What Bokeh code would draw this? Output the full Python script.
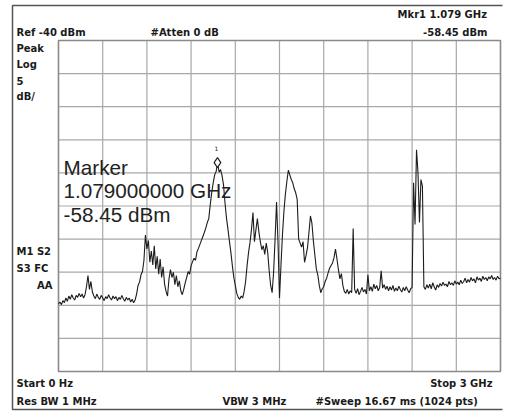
import numpy as np
from bokeh.plotting import figure
from bokeh.models import Label, Range1d
from bokeh.embed import file_html
from bokeh.resources import INLINE

# ---- data ----
start_ghz = 0.0
stop_ghz = 3.0
ref_dbm = -40.0
db_per_div = 5.0
marker_ghz = 1.079
marker_dbm = -58.45

trace_dbm = [
    -79.8, -79.5, -79.9, -79.3, -79.6, -78.9, -79.4, -78.6, -79.1, -78.4,
    -78.9, -79.2, -78.5, -78.8, -78.2, -78.7, -78.3, -78.9, -78.4, -77.2,
    -75.5, -77.6, -76.4, -78.0, -78.6, -79.0, -78.3, -78.8, -79.1, -78.5,
    -78.9, -79.3, -78.7, -79.0, -78.4, -78.9, -79.2, -78.6, -79.0, -78.7,
    -79.3, -78.8, -79.1, -78.5, -79.0, -79.4, -78.8, -79.2, -78.9, -79.5,
    -79.1, -79.6, -79.2, -78.3, -77.0, -76.5, -75.4, -74.9, -73.2, -69.4,
    -71.5, -70.2, -73.5, -71.8, -73.9, -71.0, -74.5, -72.6, -75.3, -73.0,
    -75.8, -74.2, -76.8, -77.9, -78.6, -76.0, -74.6, -75.8, -75.0, -76.9,
    -75.5, -77.2, -76.3, -77.8, -78.4, -77.6, -76.6, -75.8, -74.9, -75.3,
    -74.0, -73.4, -72.9, -73.2, -71.9, -71.4, -70.8, -70.2, -69.6, -69.0,
    -68.3, -67.5, -66.9, -64.8, -63.0, -61.5, -60.3, -59.8, -58.45, -59.9,
    -59.5, -60.4, -61.8, -64.5, -66.8, -68.5, -70.3, -72.0, -74.0, -75.8,
    -77.0, -78.2, -78.8, -79.1, -78.6, -78.9, -77.9, -76.4, -74.0, -72.0,
    -70.5, -68.5, -66.0, -70.4, -68.6, -66.9, -68.9, -70.4, -71.6, -71.0,
    -72.3, -70.6, -72.0, -74.8, -77.0, -78.1, -75.0, -70.0, -64.4, -70.5,
    -78.9, -74.0, -69.4, -65.8, -63.2, -61.3, -59.6, -60.3, -61.0, -61.5,
    -62.4, -63.0, -64.0, -70.0, -70.6, -71.2, -70.4, -73.5, -72.5, -71.3,
    -69.0, -66.5, -67.6, -70.3, -72.4, -74.5, -75.4, -77.0, -78.1, -77.5,
    -77.2, -76.4, -75.9, -75.1, -74.4, -74.0, -73.6, -72.8, -71.5, -73.0,
    -74.6, -76.0, -75.2, -77.0, -77.9, -78.2, -77.6, -78.3, -77.8, -78.1,
    -68.4, -77.6, -78.2, -77.5, -78.4, -77.9, -77.3, -78.0, -77.6, -78.3,
    -75.4, -77.8, -77.2, -77.9, -76.8, -77.5, -77.0, -77.8, -77.3, -74.8,
    -77.4, -76.9, -77.6, -77.1, -77.8, -77.2, -77.7, -77.0, -77.9, -77.4,
    -77.8, -77.1, -77.6, -78.0, -77.3, -77.8, -77.2, -77.7, -78.1, -77.5,
    -77.3, -61.5, -67.8, -56.5, -60.0, -67.5, -61.0, -62.0, -77.2, -77.6,
    -76.9, -77.4, -76.8, -77.5, -76.6, -77.2, -77.7, -76.9, -77.3, -76.7,
    -77.1, -76.5, -77.0, -76.8, -77.2, -76.4, -76.9, -76.6, -77.0, -76.3,
    -76.8, -76.5, -76.9, -76.2, -76.7, -76.4, -75.9, -76.6, -76.1, -76.5,
    -75.8, -76.3, -76.0, -76.6, -75.7, -76.2, -75.9, -76.4, -75.6, -76.1,
    -75.8, -76.3, -75.7, -76.0, -75.5, -76.1, -75.8, -76.2, -75.6, -76.0,
    -75.9,
]
# sweep points are evenly spaced from start to stop
trace_ghz = np.linspace(start_ghz, stop_ghz, len(trace_dbm))

freq_ticks = [0.0, 0.3, 0.6, 0.9, 1.2, 1.5, 1.8, 2.1, 2.4, 2.7, 3.0]
level_ticks = [-90, -85, -80, -75, -70, -65, -60, -55, -50, -45, -40]

# ---- layout (page pixels) ----
W, H = 506, 417
GL, GT, GW, GH = 58, 40, 442, 331      # graticule box
bottom_dbm = ref_dbm - 10 * db_per_div
ghz_per_px = (stop_ghz - start_ghz) / GW
db_per_px = (ref_dbm - bottom_dbm) / GH

x0 = start_ghz - GL * ghz_per_px
x1 = stop_ghz + (W - GL - GW) * ghz_per_px
y1 = ref_dbm + GT * db_per_px
y0 = bottom_dbm - (H - GT - GH) * db_per_px

p = figure(frame_width=W, frame_height=H, output_backend="svg",
           toolbar_location=None, x_range=Range1d(x0, x1), y_range=Range1d(y0, y1),
           min_border=0)
p.axis.visible = False
p.grid.visible = False
p.outline_line_color = None
p.background_fill_color = "white"
p.border_fill_color = "white"

# graticule
p.segment(x0=freq_ticks, x1=freq_ticks, y0=[bottom_dbm] * len(freq_ticks),
          y1=[ref_dbm] * len(freq_ticks), line_color="#a8a8a8", line_width=1.2)
p.segment(x0=[start_ghz] * len(level_ticks), x1=[stop_ghz] * len(level_ticks),
          y0=level_ticks, y1=level_ticks, line_color="#a8a8a8", line_width=1.2)
p.quad(left=[start_ghz], right=[stop_ghz], bottom=[bottom_dbm], top=[ref_dbm],
       fill_alpha=0, line_color="#8a8a8a", line_width=1.5)


def gx(px):
    return x0 + px * ghz_per_px


def gy(py):
    return y1 - py * db_per_px


# outer instrument frame
p.line([gx(502), gx(12), gx(12), gx(502)], [gy(5), gy(5), gy(409), gy(409)],
       line_color="#555555", line_width=1.5)

p.line(trace_ghz, trace_dbm, line_color="#1c1c1c", line_width=1.1)

# marker
p.scatter([marker_ghz], [marker_dbm], marker="diamond", size=10,
          fill_color="white", line_color="#222222", line_width=1.2)

INSTR = dict(text_font="DejaVu Sans", text_font_style="bold", text_font_size="10px",
             text_color="#1a1a1a", text_baseline="alphabetic")


def lab(px, py, text, align="left", fs=10, **kw):
    opts = dict(INSTR)
    opts.update(kw)
    opts["text_font_size"] = f"{fs}px"
    p.add_layout(Label(x=gx(px), y=gy(py - 0.4 * fs), text=text, text_align=align, **opts))


lab(16, 36, "Ref -40 dBm")
lab(150, 36, "#Atten 0 dB")
lab(490, 18, "Mkr1  1.079 GHz", "right")
lab(487, 36, "-58.45 dBm", "right")
lab(16, 52, "Peak")
lab(16, 68, "Log")
lab(16, 84, "5")
lab(16, 100, "dB/")
lab(16, 255, "M1  S2")
lab(16, 272, "S3  FC")
lab(52, 289, "AA", "right")
lab(16, 387, "Start 0 Hz")
lab(492, 387, "Stop 3 GHz", "right")
lab(16, 405, "Res BW 1 MHz")
lab(222, 405, "VBW 3 MHz")
lab(315, 405, "#Sweep 16.67 ms (1024 pts)")
lab(216, 150, "1", "center", fs=6, text_font_style="normal")

MK = dict(text_font="Liberation Sans", text_font_style="normal",
          text_color="#222222", text_baseline="alphabetic")
lab(63, 175, "Marker", fs=20.7, **MK)
lab(63, 198.5, "1.079000000 GHz", fs=20.7, **MK)
lab(63, 222, "-58.45 dBm", fs=20.7, **MK)

html = file_html(p, INLINE)
open("out.html", "w").write(html)
